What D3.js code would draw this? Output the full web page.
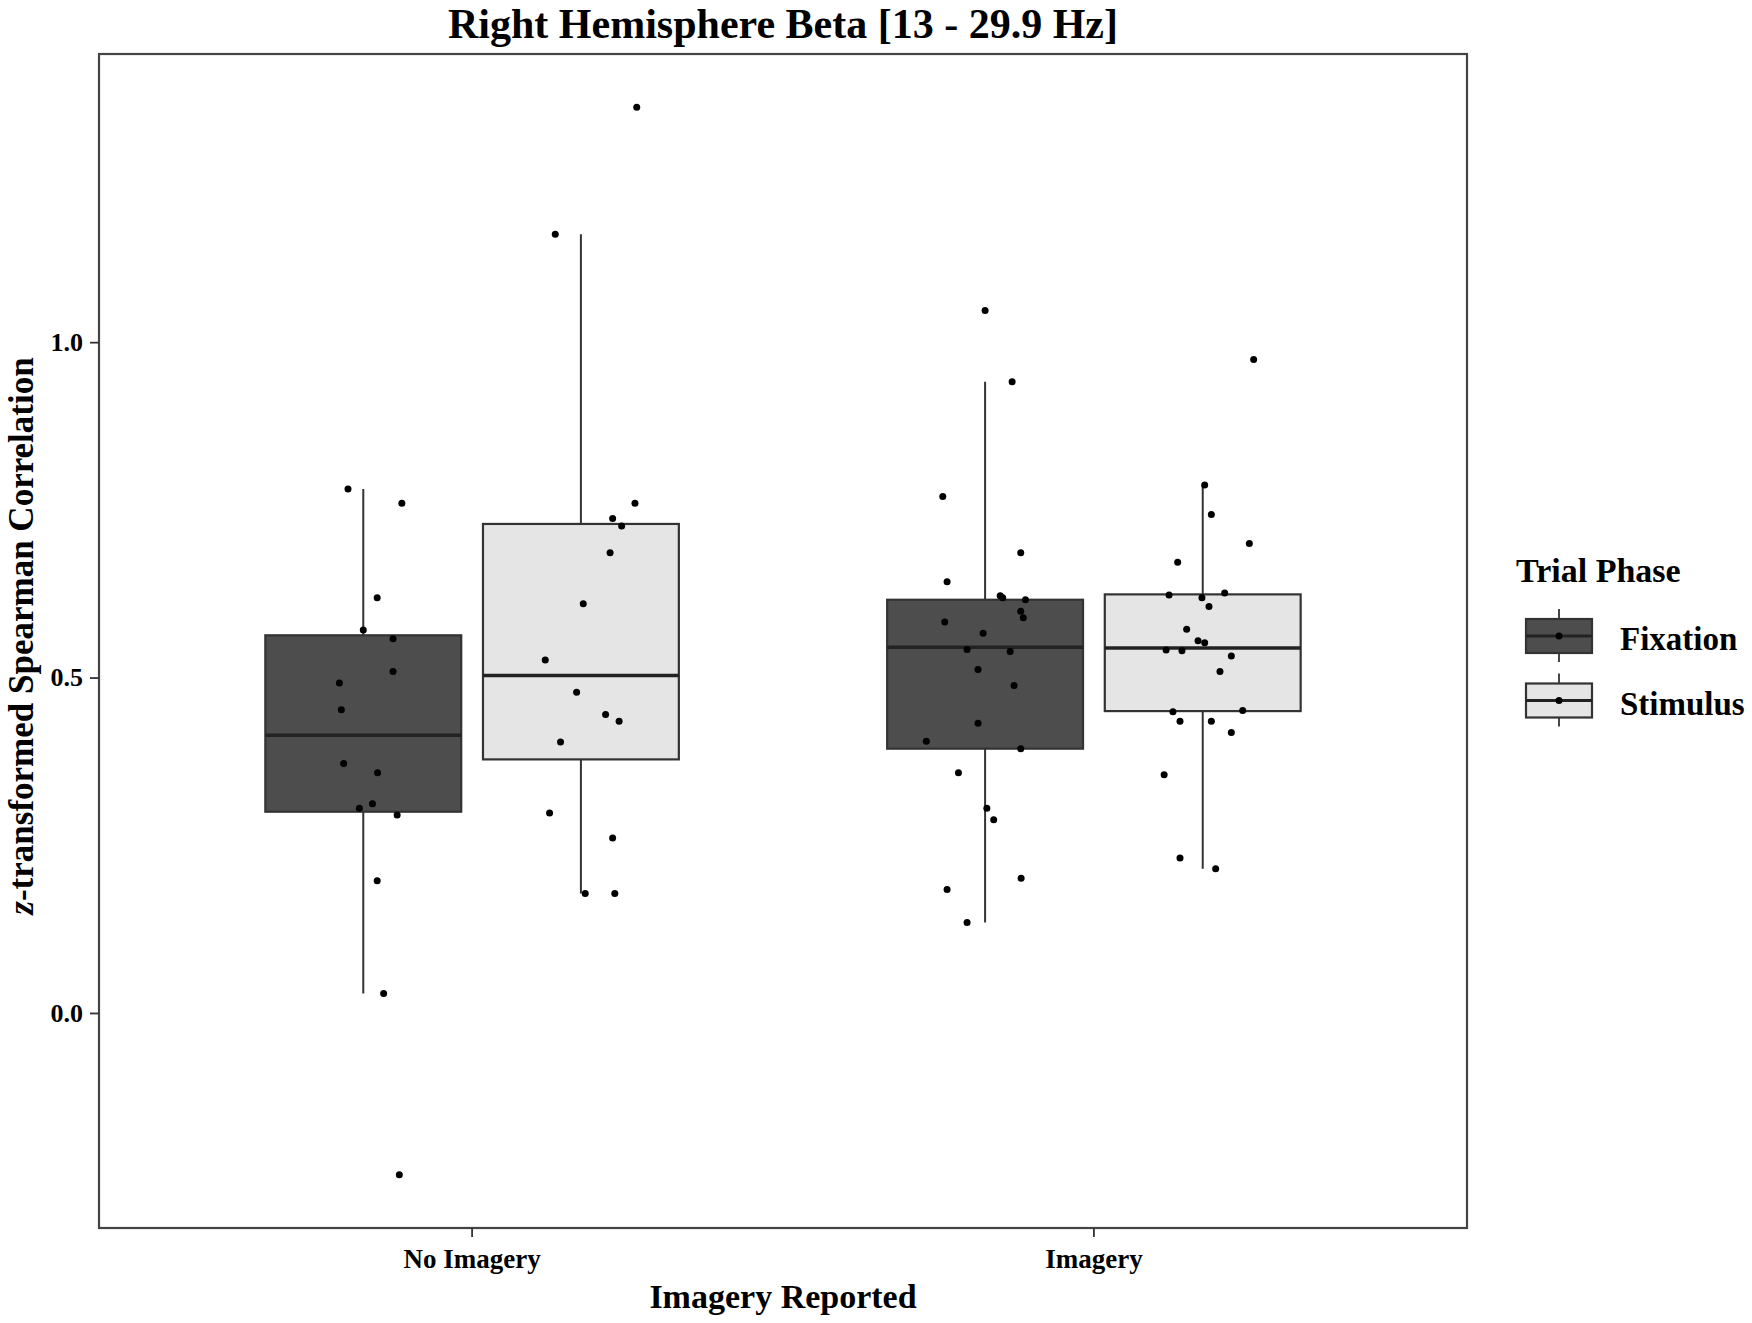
<!DOCTYPE html>
<html lang="en">
<head>
  <meta charset="UTF-8" />
  <title>Right Hemisphere Beta</title>
  <script src="https://d3js.org/d3.v7.min.js"></script>
  <style>
    body { margin: 0; background: #fff; }
    svg text { font-family: "Liberation Serif", "Times New Roman", serif; font-weight: bold; fill: #000; }
  </style>
</head>
<body>
  <svg id="chart" width="1752" height="1323"></svg>

  <script>
    // ---- data ----
    const imageryLevels = ["No Imagery", "Imagery"];
    const phases = ["Fixation", "Stimulus"];

    // z-transformed correlations per participant, with horizontal jitter (fraction of box width)
    const noImgFixValues = [0.781, 0.760, 0.619, 0.571, 0.558, 0.509, 0.492, 0.452, 0.372, 0.358, 0.312, 0.305, 0.295, 0.197, 0.029, -0.241];
    const noImgFixJitter = [-0.078, 0.197, 0.071, 0.0, 0.152, 0.152, -0.122, -0.112, -0.100, 0.073, 0.047, -0.020, 0.173, 0.071, 0.104, 0.184];

    const noImgStimValues = [1.350, 1.161, 0.760, 0.737, 0.726, 0.686, 0.610, 0.526, 0.478, 0.445, 0.435, 0.404, 0.298, 0.261, 0.178, 0.178];
    const noImgStimJitter = [0.285, -0.131, 0.276, 0.162, 0.208, 0.149, 0.012, -0.182, -0.022, 0.126, 0.195, -0.104, -0.160, 0.162, 0.022, 0.173];

    const imgFixValues = [1.047, 0.941, 0.770, 0.686, 0.643, 0.619, 0.616, 0.599, 0.589, 0.583, 0.566, 0.542, 0.539, 0.512, 0.488, 0.432, 0.405, 0.394, 0.358, 0.305, 0.288, 0.201, 0.184, 0.135, 0.622];
    const imgFixJitter = [0.0, 0.138, -0.216, 0.182, -0.194, 0.090, 0.206, 0.182, 0.195, -0.206, -0.010, -0.092, 0.128, -0.036, 0.148, -0.036, -0.300, 0.182, -0.136, 0.009, 0.044, 0.184, -0.194, -0.092, 0.077];

    const imgStimValues = [0.974, 0.787, 0.743, 0.700, 0.672, 0.626, 0.623, 0.619, 0.606, 0.572, 0.555, 0.552, 0.541, 0.540, 0.532, 0.509, 0.451, 0.449, 0.435, 0.435, 0.418, 0.355, 0.231, 0.215];
    const imgStimJitter = [0.260, 0.010, 0.044, 0.238, -0.128, 0.112, -0.172, -0.004, 0.032, -0.082, -0.024, 0.010, -0.187, -0.106, 0.146, 0.088, 0.204, -0.152, -0.116, 0.044, 0.146, -0.197, -0.116, 0.066];

    // box summaries, order: NoImg-Fix, NoImg-Stim, Img-Fix, Img-Stim
    const whiskerLow  = [0.029, 0.178, 0.135, 0.215];
    const q1          = [0.300, 0.378, 0.394, 0.450];
    const median      = [0.414, 0.503, 0.545, 0.544];
    const q3          = [0.563, 0.729, 0.616, 0.624];
    const whiskerHigh = [0.781, 1.161, 0.941, 0.787];

    const yTicks = [0.0, 0.5, 1.0];

    // ---- layout ----
    const panel = { left: 99, right: 1467, top: 54, bottom: 1228 };
    const fills = { Fixation: "#4d4d4d", Stimulus: "#e5e5e5" };
    const lineColor = "#333333";

    const groups = [
      { imagery: "No Imagery", phase: "Fixation", values: noImgFixValues, jitter: noImgFixJitter },
      { imagery: "No Imagery", phase: "Stimulus", values: noImgStimValues, jitter: noImgStimJitter },
      { imagery: "Imagery", phase: "Fixation", values: imgFixValues, jitter: imgFixJitter },
      { imagery: "Imagery", phase: "Stimulus", values: imgStimValues, jitter: imgStimJitter }
    ];
    groups.forEach((g, i) => {
      g.lo = whiskerLow[i]; g.q1 = q1[i]; g.med = median[i]; g.q3 = q3[i]; g.hi = whiskerHigh[i];
    });

    const svg = d3.select("#chart");

    // scales (ggplot-like 5% expansion on y)
    const allValues = groups.flatMap(g => g.values);
    const [vMin, vMax] = d3.extent(allValues);
    const pad = (vMax - vMin) * 0.05;
    const y = d3.scaleLinear()
      .domain([vMin - pad, vMax + pad])
      .range([panel.bottom, panel.top]);

    const x = d3.scaleBand()
      .domain(imageryLevels)
      .range([panel.left, panel.right])
      .paddingInner(0.3)
      .paddingOuter(0.25);

    const xInner = d3.scaleBand()
      .domain(phases)
      .range([0, x.bandwidth()])
      .paddingInner(0.1)
      .paddingOuter(0.05);

    const boxW = xInner.bandwidth();
    const boxLeft = g => x(g.imagery) + xInner(g.phase);
    const boxMid = g => boxLeft(g) + boxW / 2;

    // panel background
    svg.append("rect")
      .attr("x", panel.left).attr("y", panel.top)
      .attr("width", panel.right - panel.left)
      .attr("height", panel.bottom - panel.top)
      .attr("fill", "#fff");

    // boxplots
    const box = svg.append("g").selectAll("g")
      .data(groups)
      .join("g");

    box.append("line")
      .attr("x1", boxMid).attr("x2", boxMid)
      .attr("y1", d => y(d.hi)).attr("y2", d => y(d.lo))
      .attr("stroke", lineColor).attr("stroke-width", 2);

    box.append("rect")
      .attr("x", boxLeft)
      .attr("y", d => y(d.q3))
      .attr("width", boxW)
      .attr("height", d => y(d.q1) - y(d.q3))
      .attr("fill", d => fills[d.phase])
      .attr("stroke", lineColor)
      .attr("stroke-width", 2.2);

    box.append("line")
      .attr("x1", boxLeft).attr("x2", d => boxLeft(d) + boxW)
      .attr("y1", d => y(d.med)).attr("y2", d => y(d.med))
      .attr("stroke", "#222").attr("stroke-width", 3.5);

    // jittered points
    const points = groups.flatMap(g => g.values.map((v, i) => ({ g, v, j: g.jitter[i] })));
    svg.append("g").selectAll("circle")
      .data(points)
      .join("circle")
      .attr("cx", d => boxMid(d.g) + d.j * boxW)
      .attr("cy", d => y(d.v))
      .attr("r", 3.5)
      .attr("fill", "#000");

    // panel border
    svg.append("rect")
      .attr("x", panel.left).attr("y", panel.top)
      .attr("width", panel.right - panel.left)
      .attr("height", panel.bottom - panel.top)
      .attr("fill", "none")
      .attr("stroke", "#444")
      .attr("stroke-width", 2.2);

    // axes
    const yAxis = svg.append("g")
      .attr("transform", `translate(${panel.left},0)`)
      .call(d3.axisLeft(y).tickValues(yTicks).tickFormat(d3.format(".1f")).tickSize(9).tickPadding(7));
    yAxis.select(".domain").remove();
    yAxis.selectAll(".tick line").attr("stroke", lineColor).attr("stroke-width", 1.8);
    yAxis.selectAll(".tick text").style("font-size", "26px").attr("fill", "#000");

    const xAxis = svg.append("g")
      .attr("transform", `translate(0,${panel.bottom})`)
      .call(d3.axisBottom(x).tickSize(9).tickPadding(12));
    xAxis.select(".domain").remove();
    xAxis.selectAll(".tick line").attr("stroke", lineColor).attr("stroke-width", 1.8);
    xAxis.selectAll(".tick text").style("font-size", "27px").attr("fill", "#000");

    // titles
    svg.append("text")
      .attr("x", (panel.left + panel.right) / 2)
      .attr("y", 38)
      .attr("text-anchor", "middle")
      .style("font-size", "42px")
      .text("Right Hemisphere Beta [13 - 29.9 Hz]");

    svg.append("text")
      .attr("x", (panel.left + panel.right) / 2)
      .attr("y", 1308)
      .attr("text-anchor", "middle")
      .style("font-size", "34px")
      .text("Imagery Reported");

    const yTitle = svg.append("text")
      .attr("transform", `translate(33,${(panel.top + panel.bottom) / 2 - 5}) rotate(-90)`)
      .attr("text-anchor", "middle")
      .style("font-size", "35px");
    yTitle.append("tspan").style("font-style", "italic").text("z");
    yTitle.append("tspan").text("-transformed Spearman Correlation");

    // legend
    const legend = svg.append("g").attr("transform", "translate(1516,0)");
    legend.append("text")
      .attr("x", 0).attr("y", 582)
      .style("font-size", "34px")
      .text("Trial Phase");

    const keyY = d3.scalePoint().domain(phases).range([636, 700.5]);
    const key = legend.selectAll("g.key")
      .data(phases)
      .join("g")
      .attr("class", "key")
      .attr("transform", d => `translate(43,${keyY(d)})`);

    key.append("line")
      .attr("x1", 0).attr("x2", 0).attr("y1", -27).attr("y2", 26)
      .attr("stroke", lineColor).attr("stroke-width", 1.8);
    key.append("rect")
      .attr("x", -33).attr("y", -17).attr("width", 66).attr("height", 34)
      .attr("fill", d => fills[d])
      .attr("stroke", lineColor).attr("stroke-width", 2.2);
    key.append("line")
      .attr("x1", -33).attr("x2", 33).attr("y1", 0).attr("y2", 0)
      .attr("stroke", "#222").attr("stroke-width", 3);
    key.append("circle")
      .attr("r", 3.5).attr("fill", "#000");
    key.append("text")
      .attr("x", 61).attr("y", 14)
      .style("font-size", "33px")
      .text(d => d);
  </script>
</body>
</html>
